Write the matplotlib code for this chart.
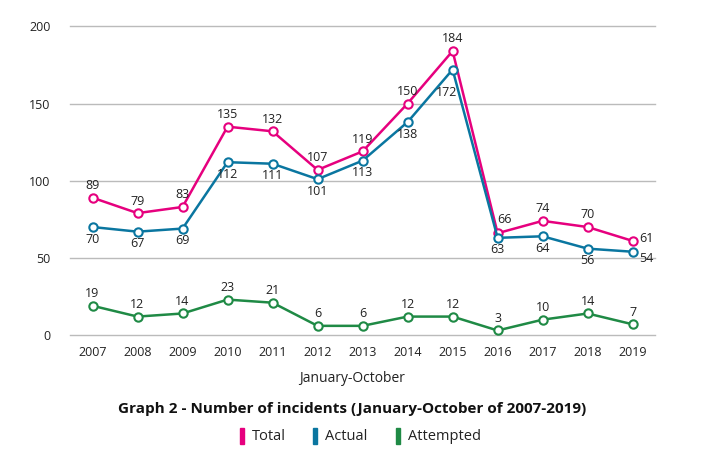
import matplotlib
matplotlib.use("Agg")
import matplotlib.pyplot as plt
from matplotlib.patches import Rectangle

plt.rcParams['font.family'] = ['Open Sans', 'DejaVu Sans']

years = list(range(2007, 2020))
total = [89, 79, 83, 135, 132, 107, 119, 150, 184, 66, 74, 70, 61]
actual = [70, 67, 69, 112, 111, 101, 113, 138, 172, 63, 64, 56, 54]
attempted = [19, 12, 14, 23, 21, 6, 6, 12, 12, 3, 10, 14, 7]

c_total = '#e6007e'
c_actual = '#0a76a0'
c_att = '#1f8a45'
txt = '#222222'

fig = plt.figure(figsize=(7.05, 4.7), dpi=100)
ax = fig.add_axes([0.0993, 0.287, 0.83, 0.657])

for vals, col in [(total, c_total), (actual, c_actual), (attempted, c_att)]:
    ax.plot(years, vals, color=col, lw=1.8, marker='o', ms=6,
            mfc='white', mec=col, mew=1.5, zorder=3)

# data labels: (dx, dy) in points
for y, v in zip(years, total):
    dx, dy, ha, va = 0, 4, 'center', 'bottom'
    if y == 2016:
        dx, dy = 5, 5
    if y == 2019:
        dx, dy, ha, va = 5, 2, 'left', 'center'
    ax.annotate(str(v), (y, v), xytext=(dx, dy), textcoords='offset points',
                ha=ha, va=va, fontsize=9, color=txt)

for y, v in zip(years, actual):
    dx, dy, ha, va = 0, -4, 'center', 'top'
    if y == 2015:
        dx, dy = -4, -12
    if y == 2019:
        dx, dy, ha, va = 5, -5, 'left', 'center'
    ax.annotate(str(v), (y, v), xytext=(dx, dy), textcoords='offset points',
                ha=ha, va=va, fontsize=9, color=txt)

for y, v in zip(years, attempted):
    ax.annotate(str(v), (y, v), xytext=(0, 4), textcoords='offset points',
                ha='center', va='bottom', fontsize=9, color=txt)

ax.set_xlim(2006.5, 2019.5)
ax.set_ylim(0, 200)
ax.set_yticks([0, 50, 100, 150, 200])
ax.set_xticks(years)
ax.tick_params(axis='both', length=0, labelsize=9, colors=txt)
ax.tick_params(axis='x', pad=8)
ax.tick_params(axis='y', pad=14)
ax.grid(axis='y', color='#bbbbbb', lw=1, clip_on=False)
ax.set_axisbelow(True)
for s in ax.spines.values():
    s.set_visible(False)

fig.text(0.499, 1 - 378 / 470, 'January-October', ha='center', va='center',
         fontsize=10, color=txt)
fig.text(0.499, 1 - 409 / 470,
         'Graph 2 - Number of incidents (January-October of 2007-2019)',
         ha='center', va='center', fontsize=11, fontweight='bold', color='#111111')

# legend
legend_items = [('Total', c_total, 240), ('Actual', c_actual, 313), ('Attempted', c_att, 396)]
for name, col, px in legend_items:
    fig.patches.append(Rectangle((px / 705, 1 - 444 / 470), 4 / 705, 16 / 470,
                                 transform=fig.transFigure, color=col))
    fig.text((px + 12) / 705, 1 - 437 / 470, name, ha='left', va='center',
             fontsize=10.5, color=txt)

fig.savefig('out.png', dpi=100)
